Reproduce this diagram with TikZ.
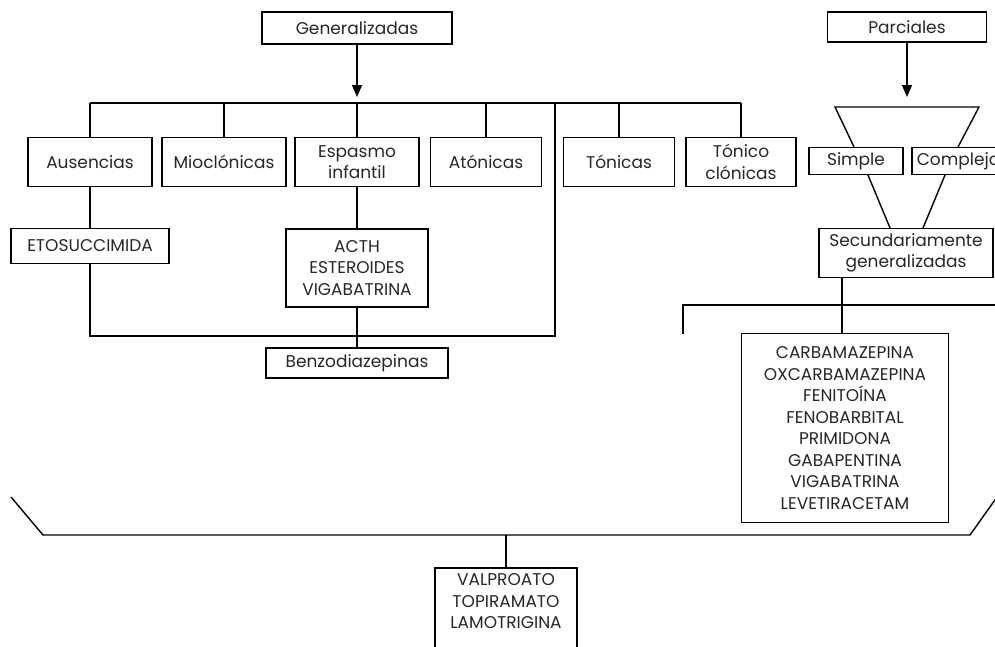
\documentclass[tikz,border=0pt]{standalone}
\usepackage{fontspec}
\setmainfont{Poppins}
\usetikzlibrary{arrows.meta}
\begin{document}
\begin{tikzpicture}[x=1pt, y=-1pt, line width=1.4pt,
        caja/.style={draw, line width=1.6pt, align=center, inner sep=0pt, font=\fontsize{17}{21.5}\selectfont, text=black!85},
        flecha/.style={-{Triangle[length=12pt, width=10pt]}}]
    \useasboundingbox (0, 0) rectangle (995, 646);
    \clip (0, 0) rectangle (995, 646);
    % generalizadas
    \node [caja, minimum width=190, minimum height=32] (gen) at (357, 28) {Generalizadas};
    \node [caja, minimum width=124, minimum height=49] (aus) at (90, 162) {Ausencias};
    \node [caja, minimum width=124, minimum height=49] (mio) at (224, 162) {Mioclónicas};
    \node [caja, minimum width=124, minimum height=49] (esp) at (357, 162) {Espasmo\\infantil};
    \node [caja, minimum width=111, minimum height=49] (ato) at (486, 162) {Atónicas};
    \node [caja, minimum width=111, minimum height=49] (ton) at (619, 162) {Tónicas};
    \node [caja, minimum width=110, minimum height=49] (toncl) at (741, 162) {Tónico\\clónicas};
    \node [caja, minimum width=158, minimum height=35] (eto) at (90, 246) {ETOSUCCIMIDA};
    \node [caja, minimum width=142, minimum height=78] (acth) at (357, 268) {ACTH\\ESTEROIDES\\VIGABATRINA};
    \node [caja, minimum width=182, minimum height=30] (benzo) at (357, 363) {Benzodiazepinas};
    \coordinate (barra) at (357, 103);
    \draw [flecha] (gen.south) -- (357, 97);
    \draw (aus.north |- barra) -- (toncl.north |- barra);
    \foreach \n in {aus, mio, esp, ato, ton, toncl}
        \draw (\n.north |- barra) -- (\n.north);
    \draw (aus.south) -- (eto.north);
    \draw (esp.south) -- (acth.north);
    \draw (acth.south) -- (benzo.north);
    \draw (eto.south) -- (90, 336) -- (555, 336) -- (555, 103);
    % parciales
    \node [caja, minimum width=159, minimum height=30] (parc) at (907, 27) {Parciales};
    \node [caja, minimum width=94, minimum height=27] (simple) at (856, 161) {Simple};
    \node [caja, minimum width=100, minimum height=27, text width=96, align=left] (comp) at (962, 161) {\,Compleja};
    \node [caja, minimum width=174, minimum height=49] (sec) at (906, 253) {Secundariamente\\generalizadas};
    \node [caja, minimum width=207, minimum height=189] (carba) at (845, 428)
        {CARBAMAZEPINA\\OXCARBAMAZEPINA\\FENITOÍNA\\FENOBARBITAL\\PRIMIDONA\\GABAPENTINA\\VIGABATRINA\\LEVETIRACETAM};
    \draw [flecha] (parc.south) -- (907, 97);
    \draw (854, 147) -- (835, 107) -- (979, 107) -- (958, 147);
    \draw (868, 175) -- (890, 228);
    \draw (945, 175) -- (923, 228);
    \draw (842, 277) -- (carba.north -| 842, 0);
    \draw (683, 334) -- (683, 305) -- (1000, 305);
    % todas
    \node [caja, minimum width=142, minimum height=110, anchor=north] (valp) at (506, 567) {VALPROATO\\TOPIRAMATO\\LAMOTRIGINA\\[22pt]};
    \draw (11, 497) -- (43, 535) -- (970, 535) -- (1002, 490);
    \draw (valp.north) -- (valp.north |- 0, 535);
\end{tikzpicture}
\end{document}
